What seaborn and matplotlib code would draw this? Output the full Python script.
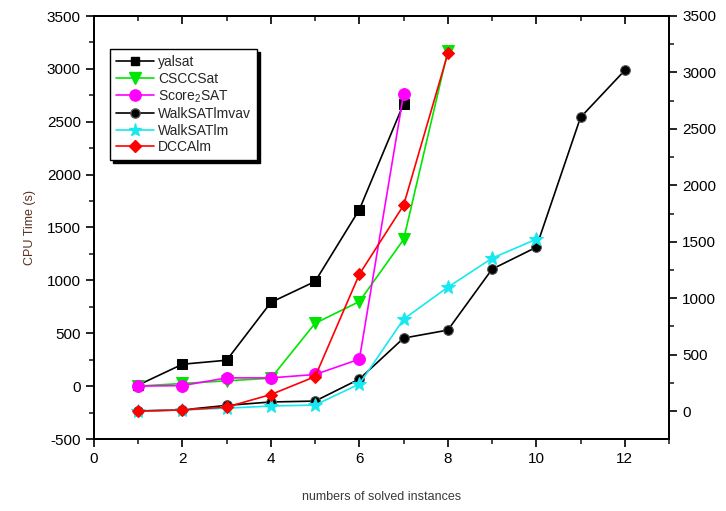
import numpy as np
import pandas as pd
import matplotlib
matplotlib.use("Agg")
import matplotlib.pyplot as plt
import seaborn as sns
from matplotlib.ticker import MultipleLocator
from matplotlib.lines import Line2D

# ---- data ----
yalsat_x = [1, 2, 3, 4, 5, 6, 7]
yalsat = [10, 207, 245, 792, 990, 1670, 2670]

csccsat_x = [1, 2, 3, 4, 5, 6, 7, 8]
csccsat = [0, 25, 50, 75, 594, 800, 1387, 3170]

score2sat_x = [1, 2, 3, 4, 5, 6, 7]
score2sat = [0, 5, 78, 78, 110, 255, 2765]

walksatlmvav_x = [1, 2, 3, 4, 5, 6, 7, 8, 9, 10, 11, 12]
walksatlmvav = [0, 10, 50, 80, 88, 283, 646, 717, 1257, 1451, 2602, 3018]

walksatlm_x = [1, 2, 3, 4, 5, 6, 7, 8, 9, 10]
walksatlm = [0, 10, 25, 44, 53, 239, 814, 1097, 1354, 1522]

dccalm_x = [1, 2, 3, 4, 5, 6, 7, 8]
dccalm = [0, 9, 35, 146, 305, 1212, 1823, 3168]

labels = ["yalsat", "CSCCSat", "Score$_2$SAT", "WalkSATlmvav", "WalkSATlm", "DCCAlm"]

# ---- style ----
sns.set_style("ticks")
plt.rcParams["font.family"] = ["Liberation Sans", "DejaVu Sans"]
plt.rcParams["mathtext.fontset"] = "custom"
plt.rcParams["mathtext.rm"] = "Liberation Sans"
plt.rcParams["mathtext.it"] = "Liberation Sans"
plt.rcParams["axes.unicode_minus"] = False

fig = plt.figure(figsize=(7.26, 5.11), dpi=100)
ax = fig.add_axes([94 / 726, 1 - 439 / 511, 575 / 726, 423 / 511])
ax2 = ax.twinx()

lw = 1.2
left_series = [
    (yalsat_x, yalsat, "#000000", "s", 6.5, labels[0]),
    (csccsat_x, csccsat, "#00e600", "v", 8.5, labels[1]),
    (score2sat_x, score2sat, "#ff00ff", "o", 8.5, labels[2]),
]
right_series = [
    (walksatlmvav_x, walksatlmvav, "#000000", "o", 7, labels[3]),
    (walksatlm_x, walksatlm, "#18e8f0", "*", 10, labels[4]),
    (dccalm_x, dccalm, "#ff0000", "D", 6.5, labels[5]),
]

handles = []
for axis, series in ((ax, left_series), (ax2, right_series)):
    for xs, ys, col, mk, ms, lab in series:
        df = pd.DataFrame({"x": xs, "y": ys})
        mec = "#555555" if lab == "WalkSATlmvav" else col
        sns.lineplot(data=df, x="x", y="y", ax=axis, color=col, marker=mk,
                     markersize=ms, markeredgecolor=mec, markerfacecolor=col,
                     linewidth=lw, estimator=None, sort=False, legend=False)
        handles.append(Line2D([0], [0], color=col, marker=mk, markersize=ms * 0.95,
                              markerfacecolor=col, markeredgecolor=mec,
                              linewidth=lw, label=lab))

ax.set_xlim(0, 13)
ax.set_ylim(-500, 3500)

ax.xaxis.set_major_locator(MultipleLocator(2))
ax.xaxis.set_minor_locator(MultipleLocator(1))
ax.yaxis.set_major_locator(MultipleLocator(500))
ax.yaxis.set_minor_locator(MultipleLocator(250))
ax2.yaxis.set_major_locator(MultipleLocator(500))
ax2.yaxis.set_minor_locator(MultipleLocator(250))
ax2.set_ylim(-248, 3500)

for a in (ax, ax2):
    for s in a.spines.values():
        s.set_linewidth(1.3)
        s.set_color("black")

ax.tick_params(axis="both", which="major", direction="out", length=6, width=1.2,
               labelsize=11, colors="black")
ax.tick_params(axis="both", which="minor", direction="out", length=3.5, width=1.2)
ax.tick_params(axis="x", which="both", top=True)
ax2.tick_params(axis="y", which="major", direction="out", length=6, width=1.2,
                labelsize=11, colors="black")
ax2.tick_params(axis="y", which="minor", direction="out", length=3.5, width=1.2)
# top ticks point inward
for t in ax.xaxis.get_major_ticks() + ax.xaxis.get_minor_ticks():
    t.tick2line.set_marker(matplotlib.lines.TICKDOWN)

ax.set_xlabel("numbers of solved instances", fontsize=9, color="#3a3a3a", labelpad=18)
ax.set_ylabel("CPU Time (s)", fontsize=9, color="#5a3020", labelpad=8)
ax2.set_ylabel("")
ax2.set_xlabel("")

leg = ax2.legend(handles=handles, loc="upper left", bbox_to_anchor=(0.028, 0.922),
                 borderaxespad=0, frameon=True, fancybox=False,
                 shadow={"color": "black", "alpha": 1}, fontsize=10,
                 handlelength=2.7, handletextpad=0.3, labelspacing=0.18,
                 borderpad=0.45, numpoints=1)
leg.get_frame().set_edgecolor("black")
leg.get_frame().set_linewidth(1.0)
leg.set_zorder(10)

fig.savefig("out.png", dpi=100)
